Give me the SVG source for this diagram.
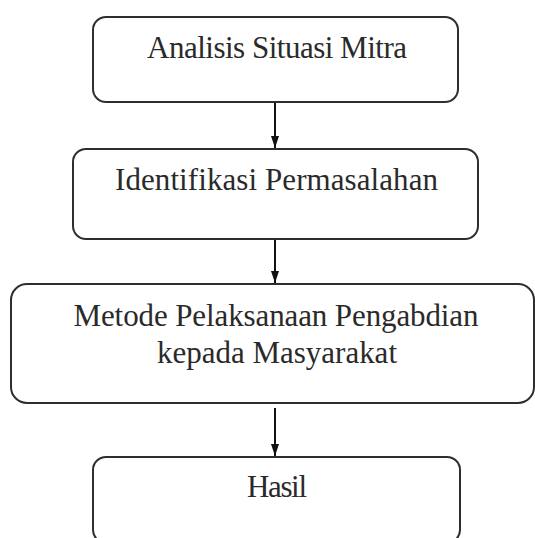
<svg xmlns="http://www.w3.org/2000/svg" width="535" height="538" viewBox="0 0 535 538">
<style>
.box{fill:#fff;stroke:#2e2e2e;stroke-width:2}
.t{font-family:"Liberation Serif","Times New Roman",serif;font-size:31px;fill:#2a2a2a;text-anchor:middle}
.c{stroke:#111;stroke-width:2;fill:none}
</style>
<defs>
<marker id="ah" markerWidth="12" markerHeight="10" refX="12" refY="5" orient="auto" markerUnits="userSpaceOnUse" viewBox="0 0 12 10">
<path d="M0,1 L12,5 L0,9 Z" fill="#111"/>
</marker>
</defs>
<rect width="535" height="538" fill="#fff"/>
<g id="connectors">
<line class="c" x1="275" y1="102" x2="275" y2="148" marker-end="url(#ah)"/>
<line class="c" x1="275" y1="239" x2="275" y2="283" marker-end="url(#ah)"/>
<line class="c" x1="275" y1="408" x2="275" y2="456" marker-end="url(#ah)"/>
</g>
<g id="node1">
<rect class="box" x="93" y="17" width="365" height="85" rx="13"/>
<text class="t" x="277" y="58" textLength="260">Analisis Situasi Mitra</text>
</g>
<g id="node2">
<rect class="box" x="73" y="149" width="405" height="90" rx="13"/>
<text class="t" x="276.5" y="190" textLength="323">Identifikasi Permasalahan</text>
</g>
<g id="node3">
<rect class="box" x="11" y="284" width="523" height="119" rx="16"/>
<text class="t" x="276" y="326" textLength="405">Metode Pelaksanaan Pengabdian</text>
<text class="t" x="277" y="363" textLength="240">kepada Masyarakat</text>
</g>
<g id="node4">
<rect class="box" x="93" y="457" width="367" height="86" rx="13"/>
<text class="t" x="277" y="497" textLength="60">Hasil</text>
</g>
</svg>
